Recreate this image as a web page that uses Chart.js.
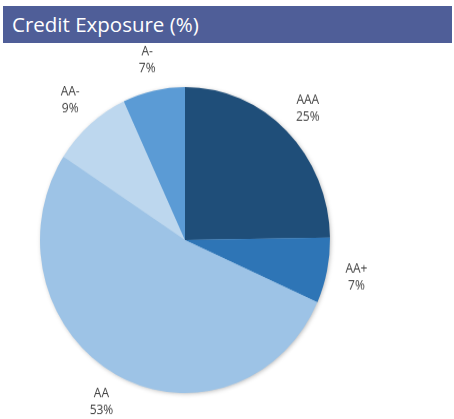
<!DOCTYPE html>
<html>
<head>
<meta charset="utf-8">
<script src="https://cdn.jsdelivr.net/npm/chart.js@4"></script>
<style>
  body { margin: 0; width: 454px; height: 419px; background: #fff; overflow: hidden; font-family: "Open Sans", sans-serif; }
  #title { position: absolute; left: 3px; top: 6px; width: 449px; height: 37px; background: #4F5E98; color: #fff; font-size: 20.5px; line-height: 37px; padding-left: 9px; box-sizing: border-box; }
  #wrap { position: absolute; left: 0; top: 43px; width: 454px; height: 376px; transform: scaleY(1.055); transform-origin: 185px 197px; }
</style>
</head>
<body>
<div id="title">Credit Exposure (%)</div>
<div id="wrap"><canvas id="pieChart"></canvas></div>
<script>
const ratings = ['AAA', 'AA+', 'AA', 'AA-', 'A-'];
const exposure = [25, 7, 53, 9, 7];
const sliceColors = ['#1F4E79', '#2E75B6', '#9DC3E6', '#BDD7EE', '#5B9BD5'];

// soft shadow under the pie, then labels outside each slice
const pieExtras = {
  id: 'pieExtras',
  beforeDatasetsDraw(chart) {
    const arc = chart.getDatasetMeta(0).data[0];
    if (!arc) return;
    const ctx = chart.ctx;
    ctx.save();
    ctx.shadowColor = 'rgba(0,0,0,0.35)';
    ctx.shadowBlur = 5;
    ctx.shadowOffsetX = 1;
    ctx.shadowOffsetY = 1;
    ctx.fillStyle = '#9DC3E6';
    ctx.beginPath();
    ctx.arc(arc.x, arc.y, arc.outerRadius - 1, 0, Math.PI * 2);
    ctx.fill();
    ctx.restore();
  },
  afterDatasetsDraw(chart) {
    const ctx = chart.ctx;
    ctx.save();
    ctx.font = '12px "Open Sans", sans-serif';
    ctx.fillStyle = '#404040';
    ctx.textAlign = 'center';
    ctx.textBaseline = 'middle';
    chart.getDatasetMeta(0).data.forEach((arc, i) => {
      const mid = (arc.startAngle + arc.endAngle) / 2;
      const r = arc.outerRadius + 30;
      const x = arc.x + Math.cos(mid) * r;
      const y = arc.y + Math.sin(mid) * r;
      ctx.fillText(ratings[i], x, y - 8);
      ctx.fillText(exposure[i] + '%', x, y + 8);
    });
    ctx.restore();
  }
};

const ctx = document.getElementById('pieChart').getContext('2d');
new Chart(ctx, {
  type: 'pie',
  data: {
    labels: ratings,
    datasets: [{
      data: exposure,
      backgroundColor: sliceColors,
      borderWidth: 0
    }]
  },
  options: {
    responsive: true,
    maintainAspectRatio: false,
    animation: false,
    layout: { padding: { top: 52, bottom: 34, left: 40, right: 124 } },
    plugins: {
      legend: { display: false },
      tooltip: { enabled: false }
    }
  },
  plugins: [pieExtras]
});
</script>
</body>
</html>
